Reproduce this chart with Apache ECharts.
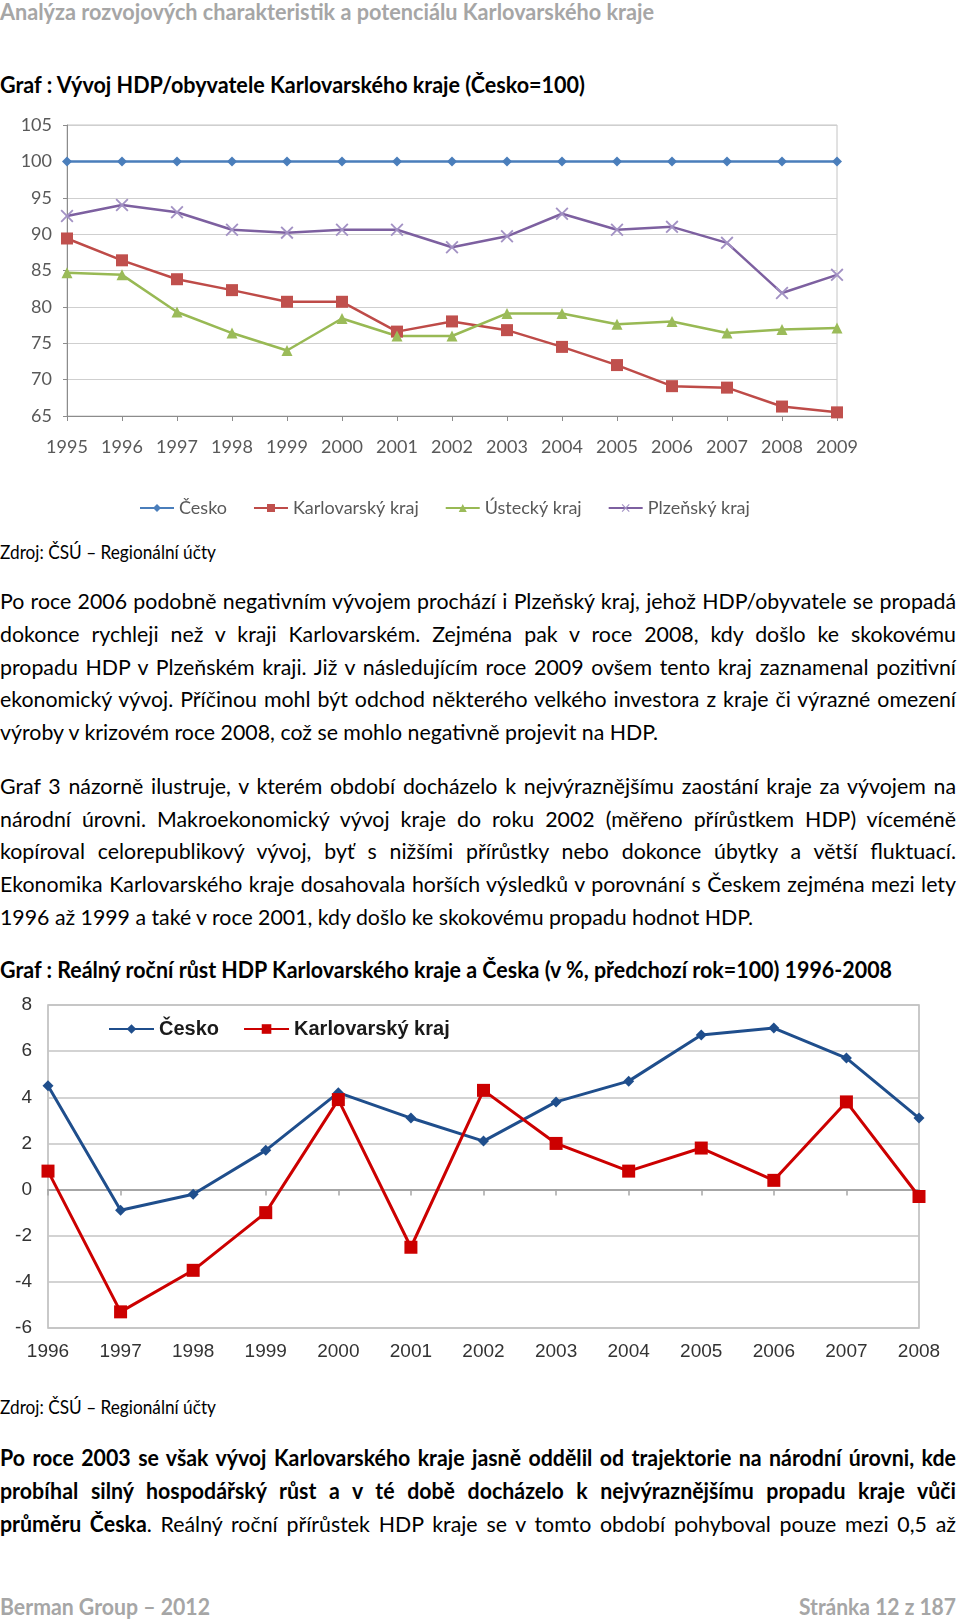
<!DOCTYPE html>
<html>
<head>
<meta charset="utf-8">
<script src="https://cdn.jsdelivr.net/npm/echarts@6/dist/echarts.min.js"></script>
<style>
  html, body { margin:0; padding:0; background:#fff; }
  body { width:960px; height:1620px; position:relative; overflow:hidden; font-family: Lato, "Noto Sans", sans-serif; color:#000; }
  .ln { position:absolute; left:0; height:30px; line-height:30px; white-space:nowrap; }
  .ln > span { display:inline-block; white-space:nowrap; transform-origin:0 50%; }
  .body { font-size:22px; }
  .bold { font-weight:700; }
  .gray { color:#a6a6a6; font-weight:700; font-size:22px; }
  .src { font-size:19px; }
  .title { font-weight:700; font-size:22.5px; }
  #c1 { position:absolute; left:0; top:100px; width:960px; height:430px; }
  #c2 { position:absolute; left:0; top:985px; width:960px; height:390px; }
</style>
</head>
<body>
<div class="ln gray" style="top:-3px" data-w="654"><span>Analýza rozvojových charakteristik a potenciálu Karlovarského kraje</span></div>
<div class="ln title" style="top:70px" data-w="585"><span>Graf : Vývoj HDP/obyvatele Karlovarského kraje (Česko=100)</span></div>
<div id="c1"></div>
<div class="ln src" style="top:537px" data-w="216"><span>Zdroj: ČSÚ – Regionální účty</span></div>

<div class="ln body" data-j="1" style="top:586px" data-w="956"><span>Po roce 2006 podobně negativním vývojem prochází i Plzeňský kraj, jehož HDP/obyvatele se propadá</span></div>
<div class="ln body" data-j="1" style="top:619px" data-w="956"><span>dokonce rychleji než v kraji Karlovarském. Zejména pak v roce 2008, kdy došlo ke skokovému</span></div>
<div class="ln body" data-j="1" style="top:652px" data-w="956"><span>propadu HDP v Plzeňském kraji. Již v následujícím roce 2009 ovšem tento kraj zaznamenal pozitivní</span></div>
<div class="ln body" data-j="1" style="top:684px" data-w="956"><span>ekonomický vývoj. Příčinou mohl být odchod některého velkého investora z kraje či výrazné omezení</span></div>
<div class="ln body" id="ref1" style="top:717px" data-w="658"><span>výroby v krizovém roce 2008, což se mohlo negativně projevit na HDP.</span></div>

<div class="ln body" data-j="1" style="top:771px" data-w="956"><span>Graf 3 názorně ilustruje, v kterém období docházelo k nejvýraznějšímu zaostání kraje za vývojem na</span></div>
<div class="ln body" data-j="1" style="top:804px" data-w="956"><span>národní úrovni. Makroekonomický vývoj kraje do roku 2002 (měřeno přírůstkem HDP) víceméně</span></div>
<div class="ln body" data-j="1" style="top:836px" data-w="956"><span>kopíroval celorepublikový vývoj, byť s nižšími přírůstky nebo dokonce úbytky a větší fluktuací.</span></div>
<div class="ln body" data-j="1" style="top:869px" data-w="956"><span>Ekonomika Karlovarského kraje dosahovala horších výsledků v porovnání s Českem zejména mezi lety</span></div>
<div class="ln body" style="top:902px" data-w="753"><span>1996 až 1999 a také v roce 2001, kdy došlo ke skokovému propadu hodnot HDP.</span></div>

<div class="ln title" style="top:955px" data-w="892"><span>Graf : Reálný roční růst HDP Karlovarského kraje a Česka (v %, předchozí rok=100) 1996-2008</span></div>
<div id="c2"></div>
<div class="ln src" style="top:1392px" data-w="216"><span>Zdroj: ČSÚ – Regionální účty</span></div>

<div class="ln body bold" data-j="1" style="top:1443px" data-w="956"><span>Po roce 2003 se však vývoj Karlovarského kraje jasně oddělil od trajektorie na národní úrovni, kde</span></div>
<div class="ln body bold" data-j="1" style="top:1476px" data-w="956"><span>probíhal silný hospodářský růst a v té době docházelo k nejvýraznějšímu propadu kraje vůči</span></div>
<div class="ln body" data-j="1" style="top:1509px" data-w="956"><span><b>průměru Česka</b>. Reálný roční přírůstek HDP kraje se v tomto období pohyboval pouze mezi 0,5 až</span></div>

<div class="ln gray" style="top:1592px" data-w="210"><span>Berman Group – 2012</span></div>
<div class="ln gray" style="top:1592px;left:799px" data-w="157"><span>Stránka 12 z 187</span></div>

<script>
// ---- Chart 1 data: HDP/obyvatele (Česko = 100)
var years1 = ['1995','1996','1997','1998','1999','2000','2001','2002','2003','2004','2005','2006','2007','2008','2009'];
var cesko1 = [100,100,100,100,100,100,100,100,100,100,100,100,100,100,100];
var karlovarsky1 = [89.4,86.4,83.8,82.3,80.7,80.7,76.6,78.0,76.8,74.5,72.0,69.1,68.9,66.3,65.5];
var ustecky1 = [84.7,84.4,79.3,76.4,74.0,78.4,76.0,76.0,79.1,79.1,77.6,78.0,76.4,76.9,77.1];
var plzensky1 = [92.5,94.0,93.0,90.6,90.2,90.6,90.6,88.2,89.7,92.8,90.6,91.0,88.8,81.9,84.4];
var yTicks1 = {min:65, max:105, interval:5};
var names1 = ['Česko','Karlovarský kraj','Ústecký kraj','Plzeňský kraj'];

// ---- Chart 2 data: real annual GDP growth (%)
var years2 = ['1996','1997','1998','1999','2000','2001','2002','2003','2004','2005','2006','2007','2008'];
var cesko2 = [4.5,-0.9,-0.2,1.7,4.2,3.1,2.1,3.8,4.7,6.7,7.0,5.7,3.1];
var karlovarsky2 = [0.8,-5.3,-3.5,-1.0,3.9,-2.5,4.3,2.0,0.8,1.8,0.4,3.8,-0.3];
var yTicks2 = {min:-6, max:8, interval:2};
var names2 = ['Česko','Karlovarský kraj'];

// ---- text fitting (emulate Word layout: justified lines get wider spaces)
function natW(el){
  var sp = el.firstElementChild;
  sp.style.wordSpacing = '0px'; sp.style.transform = 'none';
  return sp.getBoundingClientRect().width;
}
function fitLines(){
  var r = document.getElementById('ref1');
  var base = (+r.dataset.w) / natW(r);
  document.querySelectorAll('.ln').forEach(function(el){
    var target = +el.dataset.w;
    var sp = el.firstElementChild;
    var w = natW(el);
    var s;
    if (el.dataset.j) {
      var spaces = (sp.textContent.match(/ /g) || []).length;
      if (w * base <= target && spaces) {
        sp.style.wordSpacing = ((target / base - w) / spaces) + 'px';
        s = target / sp.getBoundingClientRect().width;
      } else {
        s = target / w;
      }
    } else {
      s = target / w;
    }
    sp.style.transform = 'scaleX(' + s + ')';
  });
}
fitLines();

var xSym = 'path://M0,1L1,0L5,4L9,0L10,1L6,5L10,9L9,10L5,6L1,10L0,9L4,5Z';

var c1 = echarts.init(document.getElementById('c1'), null, {renderer:'canvas'});
c1.setOption({
  animation:false,
  textStyle:{fontFamily:'Lato'},
  grid:{left:67, top:25, width:770, height:291, show:true, borderColor:'#c4c4c4', borderWidth:1, containLabel:false},
  legend:{
    left:134, top:394, itemWidth:34, itemHeight:10, itemGap:26,
    textStyle:{fontFamily:'Lato', fontSize:18, color:'#595959'},
    data:names1
  },
  xAxis:{
    type:'category', data:years1, boundaryGap:false,
    axisLine:{lineStyle:{color:'#8c8c8c', width:1}},
    axisTick:{show:true, length:5, lineStyle:{color:'#8c8c8c'}},
    axisLabel:{color:'#595959', fontSize:18, fontFamily:'Lato', margin:22, interval:0}
  },
  yAxis:{
    type:'value', min:yTicks1.min, max:yTicks1.max, interval:yTicks1.interval,
    axisLine:{show:true, lineStyle:{color:'#8c8c8c', width:1}},
    axisTick:{show:true, length:4, lineStyle:{color:'#8c8c8c'}},
    axisLabel:{color:'#595959', fontSize:18, fontFamily:'Lato', margin:15},
    splitLine:{lineStyle:{color:'#cfcfcf', width:1}}
  },
  series:[
    {name:names1[0], type:'line', data:cesko1, symbol:'diamond', symbolSize:10,
     lineStyle:{color:'#4a7ebb', width:2.5}, itemStyle:{color:'#4a7ebb'}},
    {name:names1[1], type:'line', data:karlovarsky1, symbol:'rect', symbolSize:12,
     lineStyle:{color:'#be4b48', width:2.5}, itemStyle:{color:'#c0504d'}},
    {name:names1[2], type:'line', data:ustecky1, symbol:'triangle', symbolSize:11,
     lineStyle:{color:'#98b954', width:2.5}, itemStyle:{color:'#9bbb59'}},
    {name:names1[3], type:'line', data:plzensky1, symbol:xSym, symbolSize:13,
     lineStyle:{color:'#7d60a0', width:2.5}, itemStyle:{color:'#a392c4'}}
  ]
});

var c2 = echarts.init(document.getElementById('c2'), null, {renderer:'canvas'});
c2.setOption({
  animation:false,
  grid:{left:48, top:20, width:871, height:323, show:true, borderColor:'#b8b8b8', borderWidth:1.5},
  legend:{
    left:103, top:29, itemWidth:45, itemHeight:12, itemGap:24,
    textStyle:{fontFamily:'Liberation Sans', fontSize:20, fontWeight:'bold', color:'#1a1a1a'},
    data:names2
  },
  xAxis:[
    {type:'category', data:years2, boundaryGap:false, position:'bottom',
     axisLine:{show:false, onZero:false}, axisTick:{show:false},
     axisLabel:{color:'#333', fontSize:19, fontFamily:'Liberation Sans', margin:14, interval:0}},
    {type:'category', data:years2, boundaryGap:false, position:'bottom',
     axisLine:{show:true, onZero:true, onZeroAxisIndex:0, lineStyle:{color:'#a6a6a6', width:2}},
     axisTick:{show:true, length:6, lineStyle:{color:'#a6a6a6', width:1.5}},
     axisLabel:{show:false}}
  ],
  yAxis:{
    type:'value', min:yTicks2.min, max:yTicks2.max, interval:yTicks2.interval,
    axisLine:{show:false}, axisTick:{show:false},
    axisLabel:{color:'#333', fontSize:19, fontFamily:'Liberation Sans', margin:16},
    splitLine:{lineStyle:{color:'#c4c4c4', width:1.5}}
  },
  series:[
    {name:names2[0], type:'line', xAxisIndex:0, data:cesko2, symbol:'diamond', symbolSize:11,
     lineStyle:{color:'#1f4e8c', width:3}, itemStyle:{color:'#1f4e8c'}},
    {name:names2[1], type:'line', xAxisIndex:0, data:karlovarsky2, symbol:'rect', symbolSize:13,
     lineStyle:{color:'#cc0000', width:3}, itemStyle:{color:'#cc0000'}}
  ]
});
</script>
</body>
</html>
